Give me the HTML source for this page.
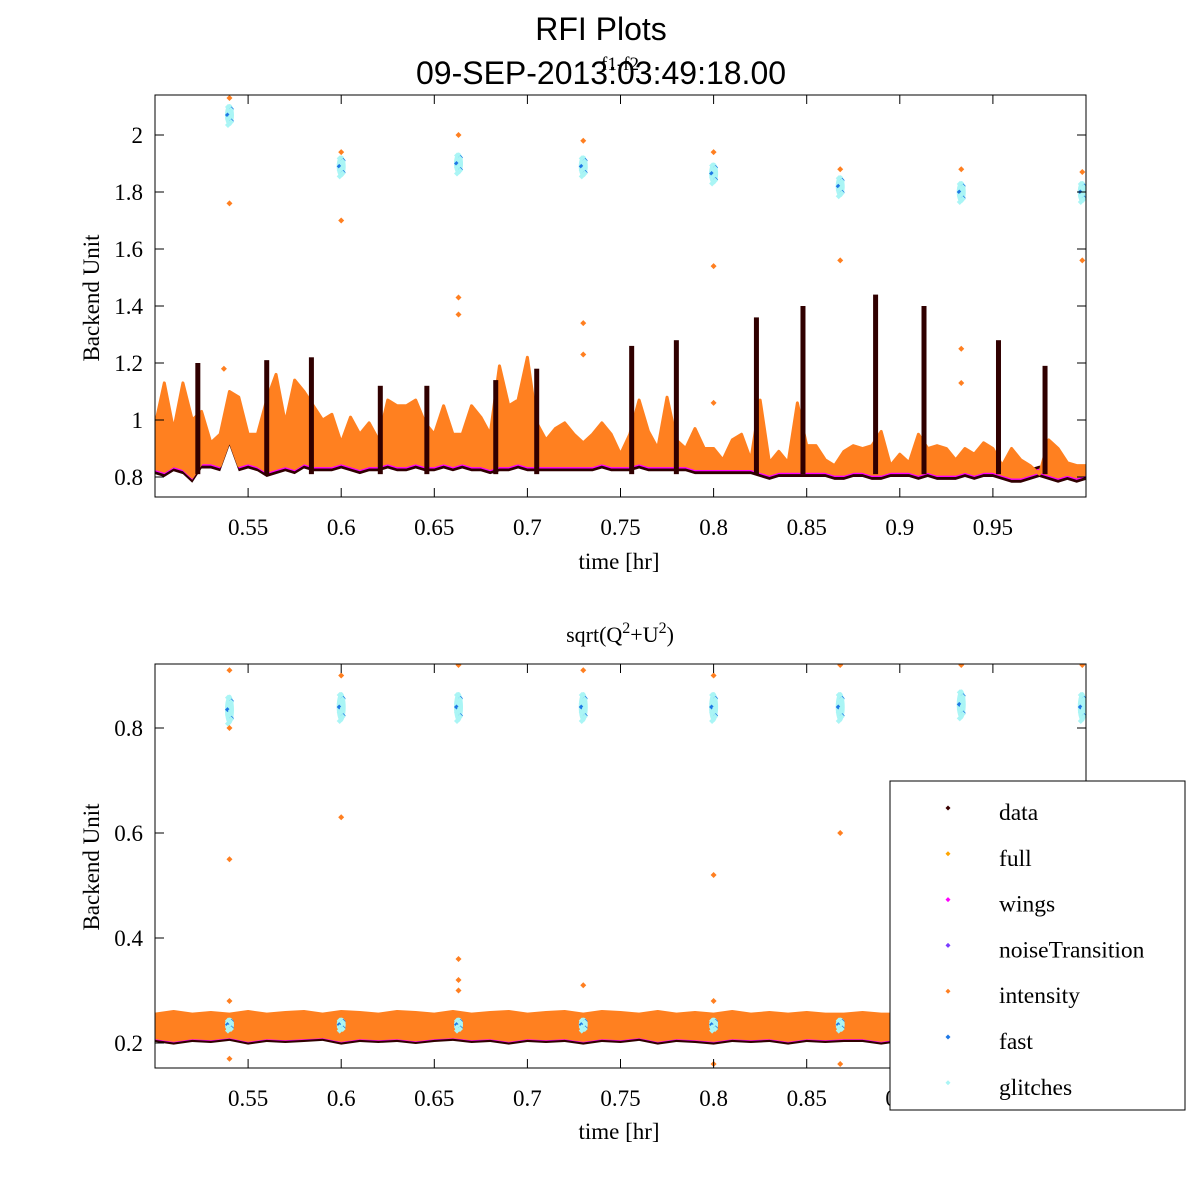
<!DOCTYPE html>
<html><head><meta charset="utf-8"><style>
html,body{margin:0;padding:0;background:#fff;}
svg{display:block;}
text{font-family:"Liberation Serif",serif;fill:#000;}
.sans{font-family:"Liberation Sans",sans-serif;}
</style></head><body>
<svg id="chart" width="1200" height="1200" viewBox="0 0 1200 1200" xmlns="http://www.w3.org/2000/svg">
<rect x="0" y="0" width="1200" height="1200" fill="#fff"/>
<text class="sans" x="601" y="40" font-size="32" text-anchor="middle">RFI Plots</text>
<text class="sans" x="601" y="84" font-size="32" text-anchor="middle">09-SEP-2013:03:49:18.00</text>
<text x="620" y="70" font-size="19" text-anchor="middle">f1-f2</text>
<text x="620" y="642" font-size="22" text-anchor="middle">sqrt(Q<tspan dy="-9" font-size="16">2</tspan><tspan dy="9">+U</tspan><tspan dy="-9" font-size="16">2</tspan><tspan dy="9">)</tspan></text>
<g id="top"></g>
<g id="bot"></g>
<text x="619" y="569" font-size="23" text-anchor="middle">time [hr]</text>
<text x="619" y="1139" font-size="23" text-anchor="middle">time [hr]</text>
<text transform="translate(99,298) rotate(-90)" font-size="23" text-anchor="middle">Backend Unit</text>
<text transform="translate(99,867) rotate(-90)" font-size="23" text-anchor="middle">Backend Unit</text>
<g id="legend"></g>
</svg>
<script>
const xTicks=[0.55,0.6,0.65,0.7,0.75,0.8,0.85,0.9,0.95];
const xTickLabels=["0.55","0.6","0.65","0.7","0.75","0.8","0.85","0.9","0.95"];
const topYTicks=[0.8,1,1.2,1.4,1.6,1.8,2];
const topYTickLabels=["0.8","1","1.2","1.4","1.6","1.8","2"];
const botYTicks=[0.2,0.4,0.6,0.8];
const botYTickLabels=["0.2","0.4","0.6","0.8"];
const bandStart=0.5, bandStep=0.005;
const topHigh=[0.98,1.13,0.965,1.13,1.0,1.03,0.92,0.95,1.1,1.08,
0.95,0.95,1.07,1.16,0.99,1.14,1.1,1.05,1.0,1.02,
0.92,1.01,0.95,0.99,0.93,1.07,1.05,1.05,1.07,0.99,
0.95,1.05,0.95,0.95,1.05,1.01,0.95,1.19,1.05,1.07,
1.22,0.99,0.93,0.97,0.99,0.95,0.92,0.95,0.99,0.95,
0.88,0.95,1.07,0.96,0.9,1.08,0.93,0.9,0.97,0.9,
0.9,0.86,0.93,0.95,0.86,1.07,0.85,0.89,0.85,1.06,
0.91,0.91,0.86,0.84,0.89,0.91,0.9,0.91,0.96,0.84,
0.88,0.85,0.95,0.9,0.91,0.9,0.86,0.9,0.88,0.92,
0.9,0.84,0.9,0.86,0.84,0.81,0.93,0.9,0.85,0.84,0.84];
const topLow=[0.83,0.82,0.84,0.83,0.80,0.85,0.85,0.84,0.93,0.84,
0.85,0.84,0.82,0.83,0.84,0.83,0.85,0.84,0.84,0.84,
0.85,0.84,0.83,0.84,0.84,0.85,0.84,0.84,0.85,0.84,
0.84,0.85,0.84,0.85,0.84,0.84,0.83,0.84,0.84,0.85,
0.84,0.84,0.84,0.84,0.84,0.84,0.84,0.84,0.85,0.84,
0.84,0.84,0.85,0.84,0.84,0.84,0.84,0.84,0.83,0.83,
0.83,0.83,0.83,0.83,0.83,0.82,0.81,0.82,0.82,0.82,
0.82,0.82,0.82,0.81,0.81,0.82,0.82,0.81,0.81,0.82,
0.82,0.82,0.81,0.82,0.81,0.81,0.81,0.82,0.81,0.82,
0.82,0.81,0.80,0.80,0.81,0.82,0.81,0.80,0.81,0.80,0.81];
const spikeTimes=[0.523,0.56,0.584,0.621,0.646,0.683,0.705,0.756,0.78,0.823,0.848,0.887,0.913,0.953,0.978];
const spikePeaks=[1.2,1.21,1.22,1.12,1.12,1.14,1.18,1.26,1.28,1.36,1.4,1.44,1.4,1.28,1.19];
const glitchTimes=[0.54,0.6,0.663,0.73,0.8,0.868,0.933,0.998];
const glitchTopVals=[2.07,1.89,1.9,1.89,1.865,1.82,1.8,1.8];
const glitchBotVals=[0.835,0.84,0.84,0.84,0.84,0.84,0.845,0.84];
const topOutT=[0.54,0.54,0.6,0.6,0.663,0.663,0.663,0.73,0.73,0.73,0.8,0.8,0.868,0.868,0.933,0.933,0.933,0.998,0.998,0.537,0.8];
const topOutV=[2.13,1.76,1.94,1.7,2.0,1.43,1.37,1.98,1.34,1.23,1.94,1.54,1.88,1.56,1.88,1.25,1.13,1.87,1.56,1.18,1.06];
const botStep=0.01;
const botHigh=[0.255,0.26,0.255,0.258,0.255,0.26,0.255,0.258,0.26,0.255,
0.26,0.258,0.255,0.26,0.258,0.255,0.26,0.255,0.258,0.26,
0.255,0.258,0.26,0.255,0.26,0.258,0.255,0.26,0.255,0.258,
0.255,0.26,0.255,0.258,0.255,0.258,0.255,0.255,0.258,0.255,
0.255,0.258,0.255,0.255,0.258,0.255,0.255,0.258,0.255,0.255,0.255];
const botLow=[0.21,0.205,0.21,0.208,0.212,0.205,0.21,0.208,0.21,0.212,
0.205,0.21,0.208,0.21,0.206,0.21,0.212,0.208,0.21,0.205,
0.21,0.208,0.21,0.205,0.21,0.208,0.212,0.205,0.21,0.208,
0.205,0.21,0.208,0.21,0.205,0.21,0.208,0.21,0.21,0.205,
0.21,0.208,0.21,0.205,0.21,0.208,0.21,0.205,0.21,0.208,0.21];
const botOutT=[0.54,0.54,0.54,0.54,0.54,0.6,0.6,0.663,0.663,0.663,0.663,0.73,0.73,0.8,0.8,0.8,0.868,0.868,0.868,0.933,0.998,0.8];
const botOutV=[0.91,0.8,0.55,0.28,0.17,0.9,0.63,0.92,0.36,0.32,0.3,0.91,0.31,0.9,0.52,0.28,0.92,0.6,0.16,0.92,0.92,0.16];
const legendLabels=["data","full","wings","noiseTransition","intensity","fast","glitches"];
const legendColors=["#3a0000","#ffa500","#ff00ff","#7a3cff","#ff7f20","#1e78e6","#aaf5f5"];

const NS="http://www.w3.org/2000/svg";
const X0=155,X1=1086;
function xS(t){return X0+(t-0.5)/0.5*(X1-X0);}
function yT(v){return 477-(v-0.8)*285;}
function yB(v){return 1043-(v-0.2)*525;}
function mk(tag,attrs,parent){const e=document.createElementNS(NS,tag);for(const k in attrs)e.setAttribute(k,attrs[k]);parent.appendChild(e);return e;}
function marker(x,y,c,parent,s){s=s||3;return mk('polygon',{points:`${x-s},${y} ${x},${y-s} ${x+s},${y} ${x},${y+s}`,fill:c},parent);}
function areaPts(step,upper,lower,ys,offU,offL){
  let a=[],b=[];
  for(let i=0;i<upper.length;i++){const x=xS(bandStart+i*step);a.push(x+','+ys(upper[i]+offU));b.unshift(x+','+ys(lower[i]+offL));}
  return a.concat(b).join(' ');
}
function drawPanel(g,ys,yTop,yBot,high,low,step,isTop){
  const clipId=isTop?'clipT':'clipB';
  const cp=mk('clipPath',{id:clipId},g);mk('rect',{x:X0,y:yTop,width:X1-X0,height:yBot-yTop},cp);
  const pg=mk('g',{'clip-path':`url(#${clipId})`},g);
  const d=isTop?0.02:0.008;
  const under=mk('polygon',{points:areaPts(step,low,low,ys,0.02,-d),fill:'#300000'},pg);
  
  
  const wing=mk('polygon',{points:areaPts(step,low,low,ys,0.01,-d/2),fill:'#ff00ff'},pg);
  
  
  const band=mk('polygon',{points:areaPts(step,high,low,ys,0,0),fill:'#ff8020',stroke:'#ff8020','stroke-width':3,'stroke-linejoin':'round'},pg);
  
  
  return pg;
}
function drawAxes(g,ys,yTop,yBot,yTicks,yLabels){
  mk('rect',{x:X0,y:yTop,width:X1-X0,height:yBot-yTop,fill:'none',stroke:'#000','stroke-width':1},g);
  xTicks.forEach((t,i)=>{
    const x=xS(t);
    mk('line',{x1:x,y1:yBot,x2:x,y2:yBot-9,stroke:'#000'},g);
    mk('line',{x1:x,y1:yTop,x2:x,y2:yTop+9,stroke:'#000'},g);
    const tx=mk('text',{x:x,y:yBot+38,'font-size':23,'text-anchor':'middle'},g);tx.textContent=xTickLabels[i];
    
    
  });
  yTicks.forEach((v,i)=>{
    const y=ys(v);
    mk('line',{x1:X0,y1:y,x2:X0+9,y2:y,stroke:'#000'},g);
    mk('line',{x1:X1,y1:y,x2:X1-9,y2:y,stroke:'#000'},g);
    const tx=mk('text',{x:X0-12,y:y+8,'font-size':23,'text-anchor':'end'},g);tx.textContent=yLabels[i];
    
    
  });
}
function glitch(pg,t,v,ys,span){
  const x=xS(t);
  const blob=mk('ellipse',{cx:x,cy:ys(v),rx:4.5,ry:span/2+2,fill:'#aaf5f5'},pg);
  
  
  for(let k=-3;k<=3;k++){
    const y=ys(v)+k*span/6;
    if(k%2===0){const b=marker(x+(k%4?2:-2),y,'#1e78e6',pg,2.5);
    
    }
    const c=marker(x+(k%2?-1.5:1.5),y+1,'#aaf5f5',pg,3);
    
    
  }
}
// TOP
const gT=document.getElementById('top');
const pT=drawPanel(gT,yT,95,497,topHigh,topLow,bandStep,true);
spikeTimes.forEach((t,i)=>{
  const x=xS(t);
  const s=mk('rect',{x:x-2.5,y:yT(spikePeaks[i]),width:5,height:yT(0.81)-yT(spikePeaks[i]),fill:'#300000'},pT);
  
  
});
glitchTimes.forEach((t,i)=>glitch(pT,t,glitchTopVals[i],yT,18));
topOutT.forEach((t,i)=>{
  const m=marker(xS(t),yT(topOutV[i]),'#ff7f20',pT,3);
  
  
});
drawAxes(gT,yT,95,497,topYTicks,topYTickLabels);
// BOTTOM
const gB=document.getElementById('bot');
const pB=drawPanel(gB,yB,664,1068,botHigh,botLow,botStep,false);
glitchTimes.forEach((t,i)=>glitch(pB,t,glitchBotVals[i],yB,26));
glitchTimes.forEach((t,i)=>{glitch(pB,t,0.235,yB,10);});
botOutT.forEach((t,i)=>{
  const m=marker(xS(t),yB(botOutV[i]),'#ff7f20',pB,3);
  
  
});
drawAxes(gB,yB,664,1068,botYTicks,botYTickLabels);
// LEGEND
const gL=document.getElementById('legend');
mk('rect',{x:890,y:781,width:295,height:329,fill:'#fff',stroke:'#000','stroke-width':1},gL);
legendLabels.forEach((lab,i)=>{
  const y=808+i*45.8;
  const e=mk('g',{},gL);
  
  
  marker(948,y,legendColors[i],e,2.5);
  const t=mk('text',{x:999,y:y+12,'font-size':23.5},e);t.textContent=lab;
});
</script>
</body></html>
